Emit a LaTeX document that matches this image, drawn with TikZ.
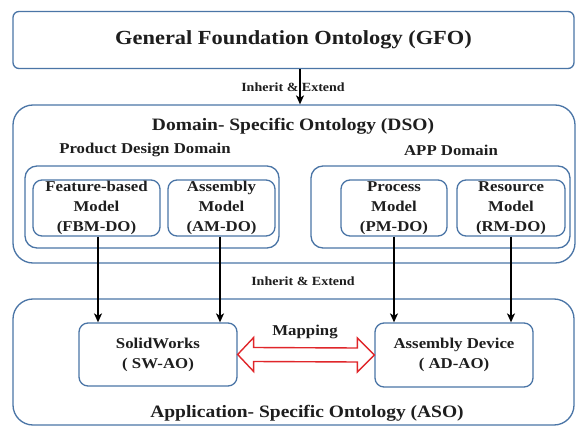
\documentclass[tikz,border=0pt]{standalone}
\usepackage{fontspec}
\setmainfont{Liberation Serif}[FakeStretch=1.12]
\usetikzlibrary{arrows.meta,calc}
\definecolor{boxblue}{HTML}{4A75A6}
\definecolor{mapred}{HTML}{E0262A}
\definecolor{txt}{HTML}{1E1E1E}
\begin{document}
\begin{tikzpicture}[x=1pt,y=-1pt,
  obox/.style={draw=boxblue, line width=1.3pt, fill=white, rounded corners=#1, inner sep=0pt, text=txt, align=center},
  obox/.default=8pt,
  bigtxt/.style={font=\bfseries\fontsize{20}{24}\selectfont, text=txt},
  titletxt/.style={font=\bfseries\fontsize{17.4}{21}\selectfont, text=txt},
  midtxt/.style={font=\bfseries\fontsize{15}{20}\selectfont, text=txt},
  smalltxt/.style={font=\bfseries\fontsize{12.5}{15}\selectfont, text=txt},
  arr/.style={line width=1.5pt, -{Stealth[length=9pt,width=8pt,inset=2.5pt]}}
]
\useasboundingbox (0,0) rectangle (576,428);
\fill[white] (0,0) rectangle (576,428);

% GFO
\node[obox=6pt, minimum width=561pt, minimum height=57pt, bigtxt] (gfo) at (293.5,40) {General Foundation Ontology (GFO)};

% DSO
\node[obox=20pt, minimum width=562pt, minimum height=158pt] (dso) at (294,184) {};
\node[titletxt] (dsot) at (293,126) {Domain- Specific Ontology (DSO)};

\node[midtxt] (pddt) at (145,150) {Product Design Domain};
\node[obox=12pt, minimum width=254pt, minimum height=82pt] (pdd) at (152,207) {};
\node[obox=9pt, minimum width=127pt, minimum height=56pt, midtxt] (fbm) at (96.5,208) {Feature-based\\Model\\(FBM-DO)};
\node[obox=9pt, minimum width=107pt, minimum height=56pt, midtxt] (am) at (221.5,208) {Assembly\\Model\\(AM-DO)};

\node[midtxt] (appt) at (451,150) {APP Domain};
\node[obox=12pt, minimum width=259pt, minimum height=82pt] (app) at (440.5,207) {};
\node[obox=9pt, minimum width=106pt, minimum height=56pt, midtxt] (pm) at (394,208) {Process\\Model\\(PM-DO)};
\node[obox=9pt, minimum width=108pt, minimum height=56pt, midtxt] (rm) at (511,208) {Resource\\Model\\(RM-DO)};

% ASO
\node[obox=20pt, minimum width=561pt, minimum height=126pt] (aso) at (293.5,362) {};
\node[titletxt] (asot) at (307,413) {Application- Specific Ontology (ASO)};
\node[obox=9pt, minimum width=158pt, minimum height=63pt, midtxt] (sw) at (158,354.5) {SolidWorks\\( SW-AO)};
\node[obox=9pt, minimum width=158pt, minimum height=64pt, midtxt] (ad) at (454,355) {Assembly Device\\( AD-AO)};

% labels
\node[smalltxt] (ie1) at (293,87) {Inherit \& Extend};
\node[smalltxt] (ie2) at (303,281) {Inherit \& Extend};
\node[midtxt] (map) at (305,332) {Mapping};

% arrows
\coordinate (gout) at ($(gfo.south)+(6.5,0)$);
\coordinate (fout) at ($(fbm.south)+(1.5,0)$);
\coordinate (aout) at ($(am.south)+(-1.5,0)$);
\draw[arr] (gout) -- (gout |- dso.north);
\draw[arr] (fout) -- (fout |- sw.north);
\draw[arr] (aout) -- (aout |- sw.north);
\draw[arr] (pm.south) -- (pm.south |- ad.north);
\draw[arr] (rm.south) -- (rm.south |- ad.north);

% mapping double arrow
\draw[mapred, line width=1.4pt, fill=white, line join=miter]
  (sw.east) -- ($(sw.east)+(16,-17)$) -- ($(sw.east)+(16,-7)$)
  -- ($(ad.west)+(-17,-7)$) -- ($(ad.west)+(-17,-17)$) -- (ad.west)
  -- ($(ad.west)+(-17,17)$) -- ($(ad.west)+(-17,7)$)
  -- ($(sw.east)+(16,7)$) -- ($(sw.east)+(16,17)$) -- cycle;
\end{tikzpicture}
\end{document}
